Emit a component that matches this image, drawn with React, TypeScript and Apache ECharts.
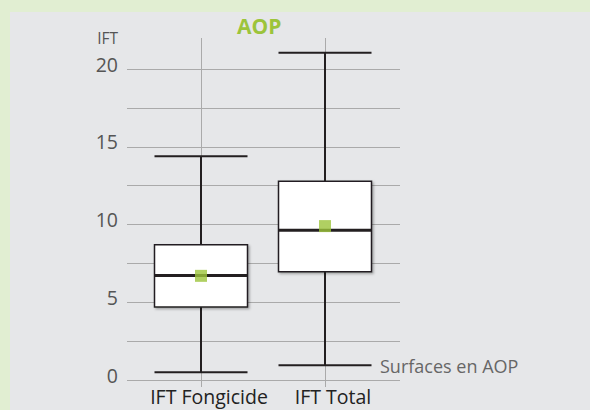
import React, { useEffect, useRef } from "react";
import * as echarts from "echarts";

const categories = ["IFT Fongicide", "IFT Total"];
// [min, Q1, median, Q3, max]
const boxValues = [
  [0.5, 4.7, 6.73, 8.7, 14.4],
  [0.95, 6.97, 9.63, 12.78, 21.05],
];
const meanValues = [6.7, 9.9];
const yTickLabels = [0, 5, 10, 15, 20];
const title = "AOP";
const yName = "IFT";
const annotation = "Surfaces en AOP";

const GREEN = "#9cc43b";
const DARK = "#231f20";
const GRID = "#aaaaaa";

export default function App() {
  const ref = useRef<HTMLDivElement>(null);
  useEffect(() => {
    if (!ref.current) return;
    const chart = echarts.init(ref.current, null, { renderer: "svg" });
    const boxData = boxValues.map((v, i) => [i, ...v]);
    const option: any = {
      animation: false,
      backgroundColor: "#e1eed2",
      textStyle: { fontFamily: "Open Sans" },
      title: {
        text: title,
        left: 237,
        top: 15,
        padding: 0,
        textStyle: { color: GREEN, fontWeight: "bold", fontSize: 21, fontFamily: "Open Sans" },
      },
      graphic: [
        {
          type: "rect",
          z: -10,
          silent: true,
          shape: { x: 10, y: 12, width: 580, height: 398 },
          style: { fill: "#e6e7e9" },
        },
        {
          type: "text",
          x: 380,
          y: 366,
          z: 10,
          style: {
            text: annotation,
            fill: "#666666",
            fontSize: 18,
            fontFamily: "Open Sans",
            verticalAlign: "middle",
            textAlign: "left",
          },
        },
      ],
      grid: [
        { left: 127, right: 190, top: 69, bottom: 30 },
        { left: 139, right: 203, top: 38, bottom: 30 },
      ],
      xAxis: [
        { type: "value", gridIndex: 0, min: 0, max: 1, show: false },
        {
          type: "category",
          gridIndex: 1,
          data: categories,
          axisLine: { show: false },
          axisTick: { show: true, interval: 0, alignWithLabel: true, length: 7, lineStyle: { color: GRID, width: 1 } },
          splitLine: { show: true, interval: 0, alignWithLabel: true, lineStyle: { color: GRID, width: 1 } },
          axisLabel: {
            interval: 0,
            fontSize: 19.5,
            color: "#222222",
            margin: 6,
            padding: [0, 0, 0, 16],
            fontFamily: "Open Sans",
          },
        },
      ],
      yAxis: [
        {
          type: "value",
          gridIndex: 0,
          min: 0,
          max: 20,
          interval: 2.5,
          name: yName,
          nameLocation: "end",
          nameGap: 23,
          nameTextStyle: { color: "#555555", fontSize: 15.5, align: "right", padding: [0, 9, 0, 0], fontFamily: "Open Sans" },
          axisLine: { show: false },
          axisTick: { show: false },
          splitLine: { show: true, lineStyle: { color: GRID, width: 1 } },
          axisLabel: {
            fontSize: 19.5,
            color: "#555555",
            margin: 9,
            verticalAlign: "bottom",
            lineHeight: 10,
            fontFamily: "Open Sans",
            formatter: (v: number) => (yTickLabels.includes(v) ? String(v) : ""),
          },
        },
        { type: "value", gridIndex: 1, min: 0, max: 22, show: false },
      ],
      series: [
        {
          type: "custom",
          xAxisIndex: 1,
          yAxisIndex: 1,
          data: boxData,
          encode: { x: 0, y: [1, 2, 3, 4, 5] },
          z: 3,
          renderItem: (params: any, api: any) => {
            const x = api.value(0);
            const lo = api.coord([x, api.value(1)]);
            const q1 = api.coord([x, api.value(2)]);
            const med = api.coord([x, api.value(3)]);
            const q3 = api.coord([x, api.value(4)]);
            const hi = api.coord([x, api.value(5)]);
            const half = api.size([1, 0])[0] * 0.375;
            const cx = lo[0];
            const lineStyle = { stroke: DARK, lineWidth: 2 };
            return {
              type: "group",
              children: [
                { type: "line", shape: { x1: cx, y1: hi[1], x2: cx, y2: q3[1] }, style: lineStyle },
                { type: "line", shape: { x1: cx, y1: q1[1], x2: cx, y2: lo[1] }, style: lineStyle },
                { type: "line", shape: { x1: cx - half, y1: hi[1], x2: cx + half, y2: hi[1] }, style: lineStyle },
                { type: "line", shape: { x1: cx - half, y1: lo[1], x2: cx + half, y2: lo[1] }, style: lineStyle },
                {
                  type: "rect",
                  shape: { x: cx - half, y: q3[1], width: half * 2, height: q1[1] - q3[1] },
                  style: {
                    fill: "#ffffff",
                    stroke: DARK,
                    lineWidth: 1.5,
                    shadowBlur: 2,
                    shadowOffsetX: 1.5,
                    shadowOffsetY: 1.5,
                    shadowColor: "rgba(0,0,0,0.3)",
                  },
                },
                { type: "line", shape: { x1: cx - half, y1: med[1], x2: cx + half, y2: med[1] }, style: { stroke: DARK, lineWidth: 3 } },
              ],
            };
          },
        },
        {
          type: "scatter",
          xAxisIndex: 1,
          yAxisIndex: 1,
          data: meanValues.map((v, i) => [i, v]),
          symbol: "rect",
          symbolSize: 12,
          itemStyle: { color: GREEN },
          z: 5,
        },
      ],
    };
    chart.setOption(option);
    return () => chart.dispose();
  }, []);
  return (
    <div
      ref={ref}
      style={{ position: "absolute", left: 0, top: 0, width: 590, height: 410 }}
    />
  );
}
